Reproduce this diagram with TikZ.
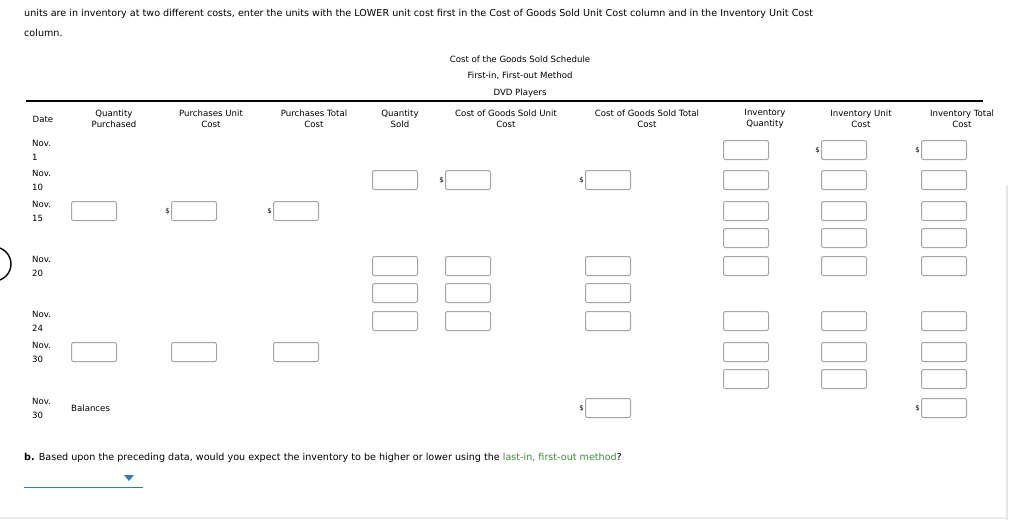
\documentclass[tikz,border=0pt]{standalone}
\usepackage{fontspec}
\setmainfont{DejaVu Sans}
\definecolor{ddblue}{HTML}{2A7DC8}
\definecolor{lgreen}{HTML}{3C8C3C}
\begin{document}
\begin{tikzpicture}[x=1pt,y=-1pt,
  inbox/.style={draw=black!35,line width=1pt,rounded corners=2pt,minimum width=45pt,minimum height=19pt,inner sep=0pt},
  hd/.style={font=\fontsize{8.6}{11}\selectfont,align=center,inner sep=0pt},
  dt/.style={font=\fontsize{8.6}{11}\selectfont,anchor=west,inner sep=0pt},
  dol/.style={font=\fontsize{7}{8}\selectfont,inner sep=0pt,anchor=east}]
\useasboundingbox (0,0) rectangle (1024,520);
\fill[white] (0,0) rectangle (1024,520);
\node[anchor=west,inner sep=0pt,font=\fontsize{9.6}{12}\selectfont] (t1) at (24,14) {units are in inventory at two different costs, enter the units with the LOWER unit cost first in the Cost of Goods Sold Unit Cost column and in the Inventory Unit Cost};
\node[anchor=west,inner sep=0pt,font=\fontsize{9.6}{12}\selectfont] (t2) at (24,33) {column.};
\node[hd] (h1) at (520,59) {Cost of the Goods Sold Schedule};
\node[hd] (h2) at (520,76) {First-in, First-out Method};
\node[hd] (h3) at (520,93) {DVD Players};
\draw[line width=1.6pt] (26,101) -- (983,101);
\node[hd] (c0) at (43,119) {Date};
\node[hd] (c1) at (114,119) {Quantity\\Purchased};
\node[hd] (c2) at (211,119) {Purchases Unit\\Cost};
\node[hd] (c3) at (314,119) {Purchases Total\\Cost};
\node[hd] (c4) at (400,119) {Quantity\\Sold};
\node[hd] (c5) at (506,119) {Cost of Goods Sold Unit\\Cost};
\node[hd] (c6) at (647,119) {Cost of Goods Sold Total\\Cost};
\node[hd] (c7) at (765,119) {Inventory\\Quantity};
\node[hd] (c8) at (861,119) {Inventory Unit\\Cost};
\node[hd] (c9) at (962,119) {Inventory Total\\Cost};
\foreach \n/\a/\b in {d1/143/1,d2/173/10,d3/204/15,d4/259/20,d5/314/24,d6/345/30,d7/401/30}{
  \node[dt] (\n a) at (32,\a) {Nov.};
  \node[dt] (\n b) at (32,\a+14) {\b};
}
\node[dt] (bal) at (71,408) {Balances};
\def\invrow#1#2{\node[inbox] (iq#1) at (746,#2) {}; \node[inbox] (iu#1) at (844,#2) {}; \node[inbox] (it#1) at (944,#2) {};}
\def\salerow#1#2{\node[inbox] (qs#1) at (395,#2) {}; \node[inbox] (cu#1) at (468,#2) {}; \node[inbox] (ct#1) at (608,#2) {};}
\def\purrow#1#2{\node[inbox] (qp#1) at (94,#2) {}; \node[inbox] (pu#1) at (194,#2) {}; \node[inbox] (pt#1) at (296,#2) {};}
\invrow{1}{150}
\salerow{2}{180}\invrow{2}{180}
\purrow{3}{211}\invrow{3}{211}
\invrow{4}{238}
\salerow{5}{266}\invrow{5}{266}
\salerow{6}{293}
\salerow{7}{321}\invrow{7}{321}
\purrow{8}{352}\invrow{8}{352}
\invrow{9}{379}
\node[inbox] (ctb) at (608,408) {};
\node[inbox] (itb) at (944,408) {};
\foreach \b in {iu1,it1,cu2,ct2,pu3,pt3,ctb,itb}{
  \node[dol] (s\b) at ([xshift=-1pt]\b.west) {\$};
}
\node[anchor=west,inner sep=0pt,font=\fontsize{9.6}{12}\selectfont] (q) at (24,458) {\textbf{b.} Based upon the preceding data, would you expect the inventory to be higher or lower using the \textcolor{lgreen}{last-in, first-out method}?};
\draw[ddblue,line width=1pt] (24,487) -- (143,487);
\fill[ddblue] (124,475) -- (134,475) -- (129,481) -- cycle;
\draw[black!10,line width=1.5pt] (1007,185) -- (1007,520);
\draw[black!8,line width=1.5pt] (0,518) -- (1007,518);
\draw[black,line width=1.4pt] (-6,281) arc[start angle=90,end angle=-90,radius=17];
\end{tikzpicture}
\end{document}
